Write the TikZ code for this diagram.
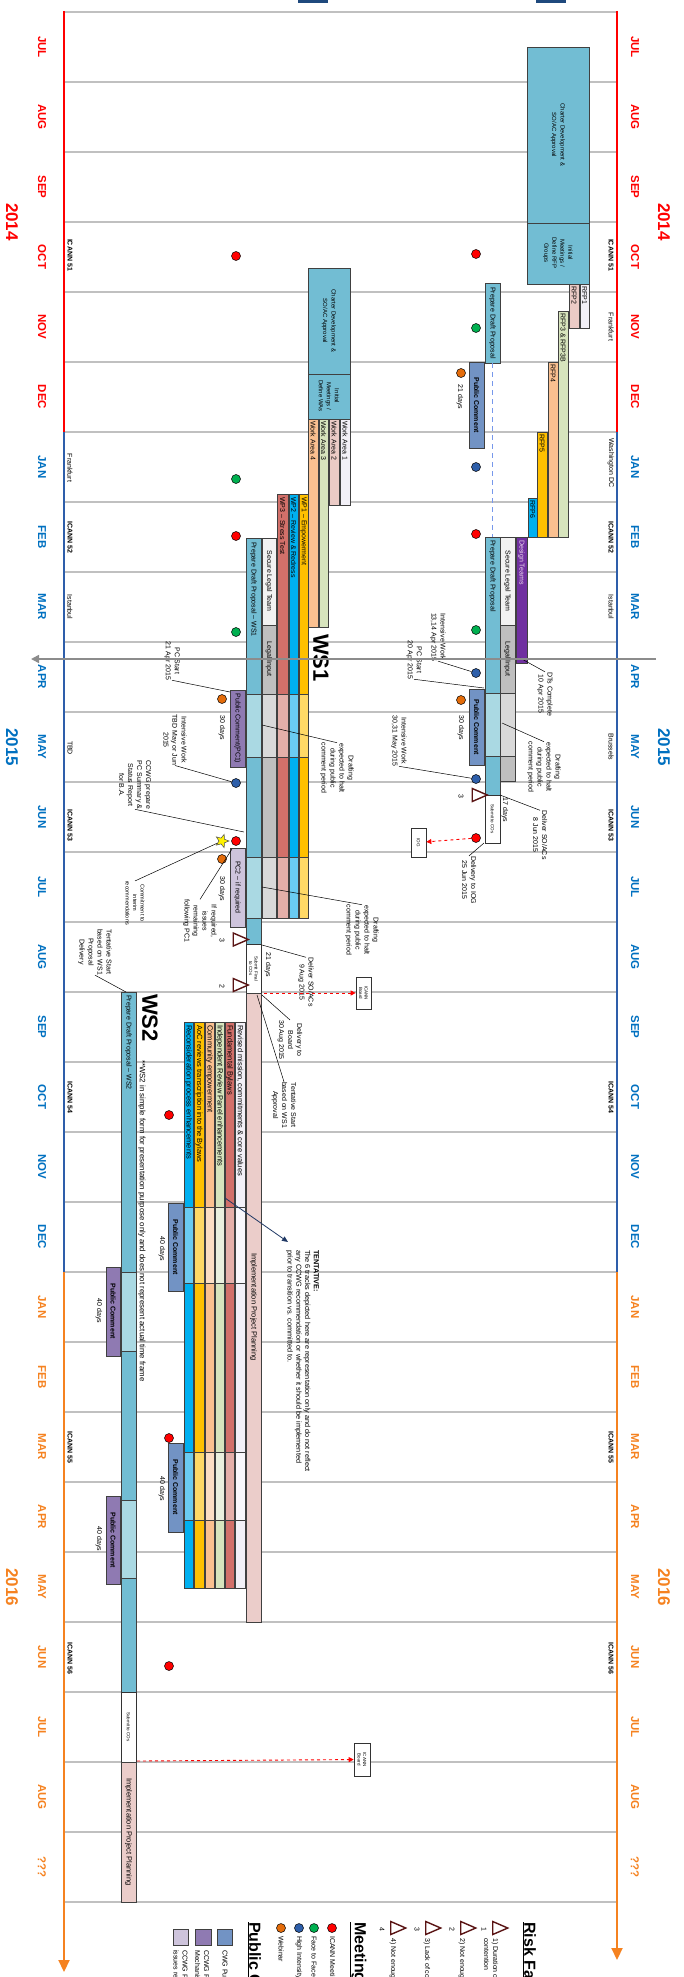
\documentclass[tikz,border=0pt]{standalone}
\usepackage{fontspec}
\setmainfont{Liberation Sans}
\usetikzlibrary{arrows.meta,shapes.geometric}

\definecolor{yrA}{RGB}{255,0,0}
\definecolor{yrB}{RGB}{0,112,192}
\definecolor{lnB}{RGB}{46,94,170}
\definecolor{yrC}{RGB}{245,130,32}
\definecolor{gridc}{RGB}{192,192,192}
\definecolor{tl}{RGB}{114,189,211}
\definecolor{tlLt}{RGB}{170,217,227}
\definecolor{pcBlue}{RGB}{114,147,196}
\definecolor{pcPurp}{RGB}{143,122,178}
\definecolor{pcLav}{RGB}{206,196,220}
\definecolor{dtPurp}{RGB}{112,48,160}
\definecolor{gold}{RGB}{255,192,0}
\definecolor{goldLt}{RGB}{255,217,102}
\definecolor{cyanA}{RGB}{0,176,240}
\definecolor{cyanLt}{RGB}{106,203,242}
\definecolor{rust}{RGB}{210,112,106}
\definecolor{rustLt}{RGB}{228,175,169}
\definecolor{peach}{RGB}{250,192,144}
\definecolor{peachLt}{RGB}{252,222,196}
\definecolor{sage}{RGB}{215,228,189}
\definecolor{sageLt}{RGB}{234,240,222}
\definecolor{lilac}{RGB}{242,240,247}
\definecolor{lilacLt}{RGB}{248,247,251}
\definecolor{rose}{RGB}{235,203,198}
\definecolor{implPink}{RGB}{235,205,202}
\definecolor{legal}{RGB}{191,191,191}
\definecolor{legalLt}{RGB}{217,217,217}
\definecolor{secure}{RGB}{242,242,242}
\definecolor{riskc}{RGB}{90,20,20}
\definecolor{navy}{RGB}{31,73,125}
\definecolor{arrowc}{RGB}{31,56,100}
\definecolor{dotG}{RGB}{0,176,80}
\definecolor{dotB}{RGB}{46,95,170}
\definecolor{dotO}{RGB}{228,108,10}

\begin{document}
\begin{tikzpicture}[x=1pt,y=-1pt,
  grid/.style={draw=gridc,line width=1.2pt},
  month/.style={rotate=-90,font=\fontsize{11.5}{12}\selectfont\bfseries},
  year/.style={rotate=-90,font=\fontsize{17}{18}\selectfont\bfseries},
  city/.style={rotate=-90,font=\fontsize{7}{8}\selectfont},
  bar/.style={draw=black!75,line width=0.7pt},
  lbl/.style={rotate=-90,font=\fontsize{7}{9}\selectfont,inner sep=0pt,align=center},
  toplbl/.style={lbl,anchor=west},
  pclbl/.style={lbl,font=\fontsize{7}{9}\selectfont\bfseries},
  note/.style={rotate=-90,font=\fontsize{7}{9}\selectfont,align=center,inner sep=0pt},
  lead/.style={draw=black,line width=0.5pt},
  dot/.style={circle,draw=black,line width=0.5pt,minimum size=9pt,inner sep=0pt},
  risk/.style={isosceles triangle,isosceles triangle stretches,draw=riskc,line width=1.4pt,fill=white,minimum width=13pt,minimum height=15pt,inner sep=0pt},
  redarr/.style={draw=red,line width=0.9pt,dashed,-{Triangle[length=5pt,width=5pt]}},
  box/.style={draw=black!80,fill=white,line width=0.7pt,rotate=-90,font=\fontsize{4.5}{5.5}\selectfont,align=center,inner sep=1pt},
  big/.style={rotate=-90,font=\fontsize{22}{22}\selectfont\bfseries}
]
\useasboundingbox (0,0) rectangle (684,1977);
\clip (0,0) rectangle (684,1977);

% months
\foreach \i in {0,...,27} \draw[grid] (64,{12+70*\i}) -- (617,{12+70*\i});
\fill[navy] (298,-2) rectangle (328,3);
\fill[navy] (536,-2) rectangle (566,3);

\foreach \m [count=\i from 0] in {JUL,AUG,SEP,OCT,NOV,DEC} {
  \node[month,text=yrA] (mL\i) at (42,{47+70*\i}) {\m};
  \node[month,text=yrA] (mR\i) at (635,{47+70*\i}) {\m};
}
\foreach \m [count=\i from 6] in {JAN,FEB,MAR,APR,MAY,JUN,JUL,AUG,SEP,OCT,NOV,DEC} {
  \node[month,text=yrB] (mL\i) at (42,{47+70*\i}) {\m};
  \node[month,text=yrB] (mR\i) at (635,{47+70*\i}) {\m};
}
\foreach \m [count=\i from 18] in {JAN,FEB,MAR,APR,MAY,JUN,JUL,AUG,???} {
  \node[month,text=yrC] (mL\i) at (42,{47+70*\i}) {\m};
  \node[month,text=yrC] (mR\i) at (635,{47+70*\i}) {\m};
}
\node[year,text=yrA] (yL1) at (12,222) {2014};
\node[year,text=yrA] (yR1) at (664,222) {2014};
\node[year,text=yrB] (yL2) at (12,747) {2015};
\node[year,text=yrB] (yR2) at (664,747) {2015};
\node[year,text=yrC] (yL3) at (12,1587) {2016};
\node[year,text=yrC] (yR3) at (664,1587) {2016};

\foreach \x/\e in {64/1972,617/1960} {
  \draw[yrA,line width=2pt] (\x,11) -- (\x,432);
  \draw[lnB,line width=2pt] (\x,432) -- (\x,1272);
  \draw[yrC,line width=2pt,-{Triangle[length=12pt,width=11pt]}] (\x,1272) -- (\x,\e);
}

% meetings
\foreach \y/\t [count=\i] in {255/ICANN 51,537/ICANN 52,825/ICANN 53,1097/ICANN 54,1447/ICANN 55,1658/ICANN 56} {
  \node[city,font=\fontsize{7}{8}\selectfont\bfseries] (cL\i) at (70,\y) {\t};
  \node[city,font=\fontsize{7}{8}\selectfont\bfseries] (cR\i) at (611,\y) {\t};
}
\node[city] (cR7) at (611,607) {Istanbul};
\node[city] (cR8) at (611,327) {Frankfurt};
\node[city] (cR9) at (611,463) {Washington DC};
\node[city] (cR10) at (611,747) {Brussels};
\node[city] (cL7) at (70,607) {Istanbul};
\node[city] (cL8) at (70,468) {Frankfurt};
\node[city] (cL9) at (70,748) {TBD};

% CWG
\draw[bar,fill=tl] (527,47) rectangle (589,223);
\node[lbl,font=\fontsize{6}{8.5}\selectfont] (rCharter) at (558,135) {Charter Development \&\\SO/AC Approval};
\draw[bar,fill=tl] (527,223) rectangle (589,284);
\node[lbl,font=\fontsize{6}{8}\selectfont] (rInit) at (558,253) {Initial\\Meetings /\\Define RFP\\Groups};
\foreach \xa/\xb/\ya/\yb/\c/\t [count=\i] in {580/589/284/328/lilac/RFP1,569/579/284/328/rose/RFP2,558/568/311/537/sage/RFP3 \& RFP3B,548/558/362/537/peach/RFP4,537/547/432/537/gold/RFP5,528/537/498/537/cyanA/RFP6} {
  \draw[bar,fill=\c] (\xa,\ya) rectangle (\xb,\yb);
  \node[toplbl] (rfp\i) at ({(\xa+\xb)/2},\ya+2) {\t};
}
\draw[bar,fill=dtPurp] (516,537) rectangle (527,663);
\node[toplbl,text=violet!15] (rDT) at (521.5,540) {Design Teams};
\draw[bar,fill=secure] (500,537) rectangle (515,625);
\node[lbl] (rSec) at (507.5,581) {Secure Legal Team};
\draw[bar,fill=legal] (500,625) rectangle (515,693);
\node[lbl] (rLeg) at (507.5,659) {Legal Input};
\draw[bar,fill=legalLt] (500,693) rectangle (515,756);
\draw[bar,fill=legal] (500,756) rectangle (515,781);
\draw[bar,fill=tl] (485,283) rectangle (500,363);
\node[lbl] (rPrep1) at (492.5,323) {Prepare Draft Proposal};
\draw[bar,fill=tl] (485,537) rectangle (500,693);
\node[toplbl] (rPrep2) at (492.5,540) {Prepare Draft Proposal};
\draw[bar,fill=tlLt] (485,693) rectangle (500,756);
\draw[bar,fill=tl] (485,756) rectangle (500,795);
\node[box,minimum width=48pt,minimum height=15pt] (rSub) at (492.5,819) {Submit to COs};
\coordinate (dashA) at (492,363);
\coordinate (dashB) at (492,537);
\draw[draw=tlLt!70!blue,line width=0.8pt,dash pattern=on 5pt off 4pt] (dashA) -- (dashB);
\draw[bar,fill=pcBlue] (469,362) rectangle (484,448);
\node[pclbl] (rPC1) at (476.5,405) {Public Comment};
\node[note] (rPC1d) at (460,397) {21 days};
\draw[bar,fill=pcBlue] (469,689) rectangle (484,765);
\node[pclbl] (rPC2) at (476.5,727) {Public Comment};
\node[note] (rPC2d) at (461,728) {30 days};

\foreach \x/\y/\c [count=\i] in {476/254/red,476/534/red,476/838/red,476/328/dotG,476/630/dotG,476/467/dotB,476/673/dotB,476/779/dotB,461/373/dotO,461/700/dotO}
  \node[dot,fill=\c] (dR\i) at (\x,\y) {};
\node[risk] (rkR) at (476.5,795) {};
\node[note] (rkRn) at (461,796) {3};

\node[box,minimum width=29pt,minimum height=15pt] (iog) at (418.5,842.5) {IOG};
\draw[redarr] (dR3) -- (iog);
\node[box,minimum width=32pt,minimum height=15pt] (brd1) at (363.5,993) {ICANN\\Board};
\node[box,minimum width=33pt,minimum height=16pt] (brd2) at (362,1759.5) {ICANN\\Board};

\node[note] (nA1) at (438,637) {Intensive Work\\13,14 Apr 2015};
\node[note] (nA2) at (414,660) {PC Start\\20 Apr 2015};
\node[note] (nA3) at (545,694) {DTs Complete\\10 Apr 2015};
\node[note] (nA4) at (544,767) {Drafting\\expected to halt\\during public\\comment period};
\node[note] (nA5) at (540,835) {Deliver SO/ACs\\8 Jun 2015};
\node[note] (nA6) at (469,880) {Delivery to IOG\\25 Jun 2015};
\node[note] (nA7) at (399,741) {Intensive Work\\30,31 May 2015};
\node[note] (nA8) at (505,810) {17 days};
\coordinate (pA2) at (484,688);
\coordinate (pA3) at (520,658);
\coordinate (pA4) at (502,723);
\coordinate (pA5) at (500,795);
\coordinate (pA6) at (484,843);
\draw[lead] (nA1.east) -- (dR7);
\draw[lead] (nA2.east) -- (pA2);
\draw[lead] (nA3.west) -- (pA3);
\draw[lead] (nA4.west) -- (pA4);
\draw[lead] (nA5.west) -- (pA5);
\draw[lead] (nA6.west) -- (pA6);
\draw[lead] (nA7.east) -- (dR8);

% CCWG WS1
\draw[bar,fill=tl] (308,268) rectangle (350,374);
\node[lbl,font=\fontsize{6}{8.5}\selectfont] (lCharter) at (329,321) {Charter Development \&\\SO/AC Approval};
\draw[bar,fill=tl] (308,374) rectangle (350,419);
\node[lbl,font=\fontsize{6}{8}\selectfont] (lInit) at (329,396) {Initial\\Meetings /\\Define WAs};
\foreach \xa/\xb/\yb/\c/\t [count=\i] in {340/350/505/lilac/Work Area 1,329/339/505/rose/Work Area 2,319/328/627/sage/Work Area 3,308/318/627/peach/Work Area 4} {
  \draw[bar,fill=\c] (\xa,419) rectangle (\xb,\yb);
  \node[toplbl] (wa\i) at ({(\xa+\xb)/2},421) {\t};
}
\foreach \xa/\xb/\ys/\c/\cl in {299/308/494/gold/goldLt,289/298/494/cyanA/cyanLt,277/288/494/rust/rustLt,262/276/625/legal/legalLt,246/261/538/tl/tlLt} {
  \draw[bar,fill=\c] (\xa,\ys) rectangle (\xb,694);
  \draw[bar,fill=\cl] (\xa,694) rectangle (\xb,757);
  \draw[bar,fill=\c] (\xa,757) rectangle (\xb,857);
  \draw[bar,fill=\cl] (\xa,857) rectangle (\xb,918);
}
\draw[bar,fill=tl] (246,918) rectangle (261,944);
\draw[bar,fill=secure] (262,538) rectangle (276,625);
\node[toplbl] (wp1) at (303.5,497) {WP1 -- Empowerment};
\node[toplbl] (wp2) at (293.5,497) {WP2 -- Review \& Redress};
\node[toplbl] (wp3) at (282.5,497) {WP3 -- Stress Test};
\node[lbl] (lSec) at (269,581) {Secure Legal Team};
\node[lbl] (lLeg) at (269,659) {Legal Input};
\node[toplbl] (lPrep) at (253.5,542) {Prepare Draft Proposal -- WS1};
\node[box,minimum width=49pt,minimum height=15pt] (lSub) at (253.5,968.5) {Submit Final\\to COs};
\draw[bar,fill=implPink] (246,993) rectangle (261,1622);
\node[lbl,font=\fontsize{7.5}{9}\selectfont] (lImpl) at (253.5,1307) {Implementation Project Planning};
\node[big] (ws1) at (321,658) {WS1};
\node[note] (n21) at (268,965) {21 days};

\draw[bar,fill=pcPurp] (230,690) rectangle (245,767);
\node[lbl] (lPC1) at (237.5,728.5) {Public Comment(PC1)};
\node[note] (lPC1d) at (222,728) {30 days};
\draw[bar,fill=pcLav] (230,848) rectangle (245,927);
\node[lbl] (lPC2) at (237.5,887.5) {PC2 -- if required};
\node[note] (lPC2d) at (222,889) {30 days};

\foreach \x/\y/\c [count=\i] in {236/256/red,236/536/red,236/841/red,169/1115/red,169/1438/red,169/1666/red,236/479/dotG,236/632/dotG,236/783/dotB,222/699/dotO,222/859/dotO}
  \node[dot,fill=\c] (dL\i) at (\x,\y) {};
\node[star,star points=5,star point ratio=2.3,fill=yellow,draw=black!70,line width=0.5pt,minimum size=14pt,inner sep=0pt,rotate=-90] (star) at (222,841) {};
\node[risk] (rkL1) at (237.5,939.5) {};
\node[note] (rkL1n) at (222,940) {3};
\node[risk] (rkL2) at (237.5,985) {};
\node[note] (rkL2n) at (222,986) {2};

\node[note] (nB1) at (172,661) {PC Start\\21 Apr 2015};
\node[note] (nB2) at (175,740) {Intensive Work\\TBD May or Jun\\2015};
\node[note] (nB3) at (135,785) {CCWG prepare\\PC Summary \&\\Status Report\\for B.A.};
\node[note] (nB4) at (337,768) {Drafting\\expected to halt\\during public\\comment period};
\node[note] (nB5) at (362,930) {Drafting\\expected to halt\\during public\\comment period};
\node[note,font=\fontsize{5.5}{7.5}\selectfont] (nB6) at (135,903) {Commitment to\\interim\\recommendations};
\node[note] (nB7) at (200,921) {If required,\\issues\\remaining\\following PC1};
\node[note] (nB8) at (306,982) {Deliver SO/ACs\\9 Aug 2015};
\node[note] (nB9) at (290,1040) {Delivery to\\Board\\30 Aug 2015};
\node[note] (nB10) at (284,1105) {Tentative Start\\based on WS1\\Approval};
\node[note] (nB11) at (95,952) {Tentative Start\\based on WS1\\Proposal\\Delivery};
\coordinate (pB1) at (230,692);
\coordinate (pB3) at (244,832);
\coordinate (pB4) at (262,725);
\coordinate (pB5) at (262,887);
\coordinate (pB7) at (232,849);
\coordinate (pB8) at (262,945);
\coordinate (pB9) at (262,995);
\coordinate (pB10) at (257,995);
\coordinate (pB11) at (126,992);
\draw[lead] (nB1.east) -- (pB1);
\draw[lead] (nB2.east) -- (dL9);
\draw[lead] (nB3.east) -- (pB3);
\draw[lead] (nB4.west) -- (pB4);
\draw[lead] (nB5.west) -- (pB5);
\draw[lead] (nB6.west) -- (star);
\draw[lead] (nB7.west) -- (pB7);
\draw[lead] (nB8.west) -- (pB8);
\draw[lead] (nB9.west) -- (pB9);
\draw[lead] (nB10.west) -- (pB10);
\draw[lead] (nB11.east) -- (pB11);
\coordinate (aB1) at (264,993);
\draw[redarr] (aB1) -- (brd1);

% WS2
\draw[bar,fill=tl] (121,992) rectangle (136,1272);
\draw[bar,fill=tlLt] (121,1272) rectangle (136,1351);
\draw[bar,fill=tl] (121,1351) rectangle (136,1500);
\draw[bar,fill=tlLt] (121,1500) rectangle (136,1578);
\draw[bar,fill=tl] (121,1578) rectangle (136,1692);
\node[toplbl] (ws2prep) at (128.5,995) {Prepare Draft Proposal -- WS2};
\node[box,minimum width=70pt,minimum height=15pt] (ws2sub) at (128.5,1727) {Submit to COs};
\draw[bar,fill=implPink] (121,1762) rectangle (136,1902);
\node[lbl,font=\fontsize{7.5}{9}\selectfont] (ws2impl) at (128.5,1832) {Implementation Project Planning};
\coordinate (aB2) at (137,1761);
\draw[redarr] (aB2) -- (brd2);
\node[big] (ws2) at (150,1018) {WS2};
\node[rotate=-90,anchor=west,font=\fontsize{7.8}{8}\selectfont,inner sep=0pt] (ws2note) at (142,1060) {**WS2 in simple form for presentation purpose only and does not represent actual time frame};

\foreach \xa/\xb/\c/\cl/\t [count=\i] in {184/193/cyanA/cyanLt/Reconsideration process enhancements,194/204/gold/goldLt/AoC reviews transcription into the Bylaws,205/214/peach/peachLt/Community empowerment,215/224/sage/sageLt/Independent Review Panel enhancements,225/234/rust/rustLt/Fundamental Bylaws,235/245/lilac/lilacLt/{Revised mission, commitments \& core values}} {
  \draw[bar,fill=\c] (\xa,1022) rectangle (\xb,1207);
  \draw[bar,fill=\cl] (\xa,1207) rectangle (\xb,1283);
  \draw[bar,fill=\c] (\xa,1283) rectangle (\xb,1452);
  \draw[bar,fill=\cl] (\xa,1452) rectangle (\xb,1520);
  \draw[bar,fill=\c] (\xa,1520) rectangle (\xb,1588);
  \node[toplbl,font=\fontsize{7.5}{9}\selectfont] (trk\i) at ({(\xa+\xb)/2},1025) {\t};
}
\draw[bar,fill=pcBlue] (168,1203) rectangle (183,1291);
\node[pclbl] (pc3) at (175.5,1247) {Public Comment};
\node[note] (pc3d) at (162,1249) {40 days};
\draw[bar,fill=pcBlue] (168,1443) rectangle (183,1532);
\node[pclbl] (pc4) at (175.5,1487) {Public Comment};
\node[note] (pc4d) at (162,1489) {40 days};
\draw[bar,fill=pcPurp] (106,1267) rectangle (120,1356);
\node[pclbl] (pc5) at (113,1311) {Public Comment};
\node[note] (pc5d) at (99,1311) {40 days};
\draw[bar,fill=pcPurp] (106,1496) rectangle (120,1584);
\node[pclbl] (pc6) at (113,1540) {Public Comment};
\node[note] (pc6d) at (99,1539) {40 days};

\node[rotate=-90,anchor=north west,align=left,font=\fontsize{7.3}{8.7}\selectfont,inner sep=0pt] (tent) at (319,1250) {\textbf{TENTATIVE:}\\The 6 tracks depicted here are representation only and do not reflect\\any CCWG recommendation or whether it should be implemented\\prior to transition vs. committed to.};
\coordinate (tA) at (225,1198);
\coordinate (tB) at (288,1242);
\draw[draw=arrowc,line width=0.8pt,-{Triangle[length=6pt,width=5pt]}] (tA) -- (tB);

% today
\coordinate (nowA) at (656,659);
\coordinate (nowB) at (31,659);
\draw[draw=black!45,line width=1.6pt,-{Triangle[length=8pt,width=8pt]}] (nowA) -- (nowB);

% legend
\node[rotate=-90,anchor=west,font=\fontsize{16}{16}\selectfont\bfseries,inner sep=0pt] (lgRisk) at (529,1922) {\underline{Risk Factors}};
\foreach \x/\n [count=\i] in {497/1,465/2,430/3,395/4} {
  \node[risk] (lgT\i) at (\x,1928) {};
  \node[note] (lgN\i) at (\x-13,1929) {\n};
}
\node[note,anchor=west,align=left] (lgR1) at (491,1938) {1) Duration of the\\contention};
\node[note,anchor=west] (lgR2) at (462,1938) {2) Not enough time};
\node[note,anchor=west] (lgR3) at (427,1938) {3) Lack of consensus};
\node[note,anchor=west] (lgR4) at (393,1938) {4) Not enough input};
\node[rotate=-90,anchor=west,font=\fontsize{16}{16}\selectfont\bfseries,inner sep=0pt] (lgMeet) at (358,1922) {\underline{Meetings}};
\foreach \x/\c/\t [count=\i] in {332/red/ICANN Meetings,314/dotG/Face to Face,299/dotB/High Intensity,281/dotO/Webinar} {
  \node[dot,fill=\c] (lgD\i) at (\x,1928) {};
  \node[note,anchor=west] (lgDt\i) at (\x,1936) {\t};
}
\node[rotate=-90,anchor=west,font=\fontsize{16}{16}\selectfont\bfseries,inner sep=0pt] (lgPub) at (254,1922) {\underline{Public Comment}};
\draw[bar,fill=pcBlue] (217,1929) rectangle (232,1945);
\draw[bar,fill=pcPurp] (195,1929) rectangle (211,1945);
\draw[bar,fill=pcLav] (173,1929) rectangle (188,1945);
\node[note,anchor=west] (lgP1) at (225,1950) {CWG Public Comment};
\node[note,anchor=west,align=left] (lgP2) at (202,1950) {CCWG Public Comment\\Mechanism};
\node[note,anchor=west,align=left] (lgP3) at (180,1950) {CCWG Public Comment\\issues remaining};
\end{tikzpicture}
\end{document}
